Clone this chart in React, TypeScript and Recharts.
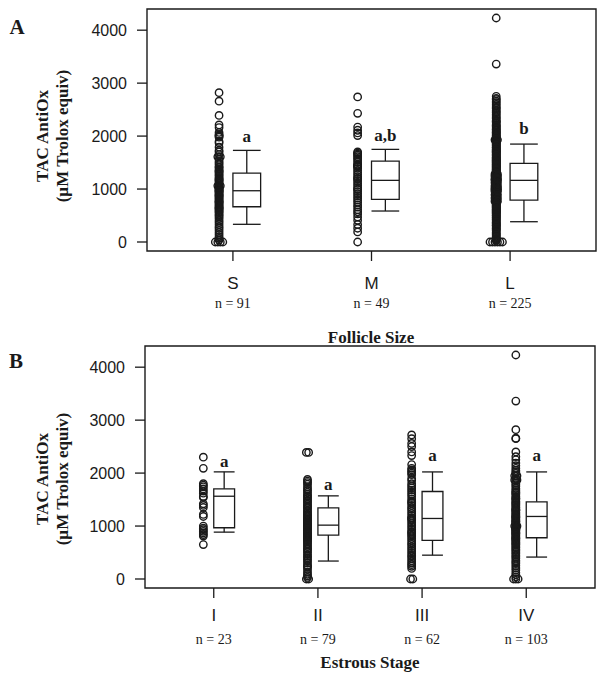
import React from 'react';
import { ComposedChart, Scatter, XAxis, YAxis, ReferenceArea, ReferenceLine } from 'recharts';

const SERIF = '"Liberation Serif", "Times New Roman", serif';
const SANS = '"Liberation Sans", Arial, sans-serif';
const INK = '#1a1a1a';

const yTicks = [0, 1000, 2000, 3000, 4000];
const yDomain = [-170, 4400];

// ---- panel A : follicle size ----
const sizeGroups = ['S', 'M', 'L'];
const sizeN = [91, 49, 225];
const sizeLetters = ['a', 'a,b', 'b'];
const sizeLetterY = [2000, 2020, 2145];
const sizeLow = [334, 585, 383];
const sizeQ1 = [666, 806, 792];
const sizeMed = [968, 1164, 1164];
const sizeQ3 = [1302, 1528, 1485];
const sizeHigh = [1730, 1749, 1849];

const sizeS = [
  2820, 2660, 2390, 2210, 2160, 2070, 2030, 2010, 2000, 1980, 1900, 1870, 1790, 1730, 1700,
  1650, 1610, 1560, 1520, 1490, 1460, 1420, 1410, 1380, 1350, 1320, 1300, 1270, 1250, 1220,
  1200, 1180, 1170, 1150, 1130, 1100, 1080, 1060, 1050, 1030, 1010, 990, 980, 970, 950,
  930, 910, 890, 880, 870, 850, 830, 810, 790, 770, 760, 750, 730, 710, 690,
  670, 650, 640, 630, 610, 590, 570, 550, 520, 500, 470, 440, 400, 370, 330,
  290, 260, 220, 180, 140, 100, 70, 40, 1340, 1610, 0, 0, 0, 0, 960, 1060,
];
const sizeM = [
  2740, 2430, 2170, 2110, 2060, 2010, 1700, 1680, 1660, 1640, 1610, 1580, 1550, 1510, 1470,
  1450, 1440, 1430, 1420, 1390, 1350, 1310, 1270, 1230, 1200, 1190, 1150, 1110, 1070, 1030,
  1000, 990, 950, 910, 870, 830, 790, 750, 700, 660, 610, 570, 530, 470, 410,
  330, 260, 190, 0,
];
const sizeL = [
  4230, 3360, 2750, 2710, 2690, 2660, 2630, 2600, 2570, 2540, 2520, 2490, 2460, 2440, 2410,
  2380, 2350, 2330, 2300, 2280, 2250, 2220, 2200, 2170, 2150, 2120, 2100, 2080, 2060, 2040,
  2020, 2010, 1990, 1970, 1950, 1930, 1910, 1890, 1870, 1860, 1840, 1820, 1800, 1790, 1770,
  1750, 1730, 1720, 1700, 1680, 1660, 1650, 1630, 1610, 1600, 1580, 1560, 1550, 1530, 1510,
  1500, 1480, 1470, 1450, 1430, 1420, 1400, 1390, 1370, 1350, 1340, 1320, 1310, 1290, 1280,
  1260, 1250, 1230, 1220, 1200, 1190, 1180, 1160, 1150, 1130, 1120, 1110, 1090, 1080, 1060,
  1050, 1040, 1020, 1010, 990, 980, 970, 950, 940, 920, 910, 900, 880, 870, 850,
  840, 820, 810, 790, 780, 760, 750, 730, 720, 700, 690, 670, 650, 640, 620,
  600, 590, 570, 550, 530, 510, 490, 470, 450, 430, 400, 370, 340, 310, 280,
  250, 220, 190, 150, 110, 70, 40, 0, 0, 0, 0, 0, 0, 1170, 1240,
  1330, 1460, 1020, 890, 770, 660, 1540, 1710, 1930, 1140, 1070, 960, 830, 1280, 1490,
  2270, 2190, 2130, 2070, 1980, 1940, 1880, 1830, 1780, 1740, 1690, 1640, 1590, 1570, 1520,
  1440, 1410, 1380, 1360, 1300, 1270, 1210, 1170, 1100, 1030, 1000, 960, 930, 890, 860,
  830, 800, 770, 740, 710, 680, 630, 610, 580, 560, 540, 500, 460, 420, 380,
  350, 320, 300, 260, 230, 170, 130, 90, 60, 30, 1120, 1190, 1240, 1060, 990,
];

// ---- panel B : estrous stage ----
const stageGroups = ['I', 'II', 'III', 'IV'];
const stageN = [23, 79, 62, 103];
const stageLetters = ['a', 'a', 'a', 'a'];
const stageLetterY = [2222, 1802, 2348, 2348];
const stageLow = [885, 339, 450, 414];
const stageQ1 = [968, 829, 729, 779];
const stageMed = [1563, 1017, 1143, 1181];
const stageQ3 = [1702, 1344, 1652, 1457];
const stageHigh = [2023, 1570, 2022, 2022];

const stageI = [
  2300, 2090, 1800, 1770, 1740, 1700, 1660, 1620, 1560, 1540, 1420, 1390, 1350, 1220, 1180,
  1000, 960, 930, 900, 870, 840, 810, 650,
];
const stageII = [
  2390, 2390, 1880, 1850, 1820, 1790, 1740, 1700, 1670, 1640, 1600, 1570, 1550, 1520, 1490,
  1470, 1440, 1410, 1380, 1360, 1330, 1300, 1270, 1250, 1220, 1200, 1190, 1160, 1140, 1130,
  1110, 1090, 1080, 1060, 1040, 1020, 1010, 1000, 980, 960, 950, 940, 920, 900, 880,
  870, 860, 840, 820, 800, 790, 780, 760, 740, 720, 700, 670, 640, 610, 580,
  560, 530, 500, 460, 430, 400, 370, 340, 300, 260, 240, 220, 180, 130, 90,
  60, 30, 0, 0,
];
const stageIII = [
  2720, 2650, 2560, 2500, 2400, 2330, 2160, 2090, 2060, 2030, 2000, 1970, 1900, 1860, 1800,
  1760, 1720, 1680, 1640, 1600, 1560, 1510, 1470, 1450, 1430, 1390, 1350, 1320, 1280, 1240,
  1200, 1160, 1150, 1130, 1100, 1060, 1020, 980, 940, 900, 880, 860, 830, 800, 760,
  720, 680, 650, 610, 570, 530, 490, 450, 420, 380, 340, 300, 270, 240, 200,
  0, 0,
];
const stageIV = [
  4230, 3360, 2820, 2660, 2650, 2400, 2310, 2250, 2190, 2140, 2090, 2050, 2020, 1990, 1950,
  1900, 1870, 1870, 1850, 1810, 1780, 1750, 1710, 1680, 1650, 1620, 1590, 1560, 1530, 1500,
  1470, 1450, 1430, 1410, 1390, 1360, 1340, 1310, 1290, 1260, 1240, 1220, 1200, 1180, 1160,
  1140, 1120, 1100, 1080, 1060, 1040, 1020, 1000, 1000, 980, 960, 950, 940, 920, 900,
  880, 860, 840, 820, 800, 780, 760, 740, 720, 700, 680, 660, 640, 610, 590,
  560, 540, 510, 480, 450, 420, 390, 350, 320, 290, 250, 210, 170, 120, 80,
  40, 0, 0, 0, 1300, 1520, 1170, 1090, 930, 870, 1630, 1950, 770,
];

// strip offsets (category units): points left of tick, box right of tick
const STRIP_DX = -0.1;
const BOX_W = 0.2;

// equal values are stacked side by side, like stripchart(method = "stack")
function stripPoints(groups: number[][], step: number) {
  const out: { x: number; y: number }[] = [];
  groups.forEach((vals, gi) => {
    const counts: Record<number, number> = {};
    vals.forEach((v) => (counts[v] = (counts[v] || 0) + 1));
    const seen: Record<number, number> = {};
    vals.forEach((v) => {
      const k = seen[v] || 0;
      seen[v] = k + 1;
      const off = (k - (counts[v] - 1) / 2) * step;
      out.push({ x: gi + 1 + STRIP_DX + off, y: v });
    });
  });
  return out;
}

const Ring = (props: any) => (
  <circle cx={props.cx} cy={props.cy} r={3.7} fill="none" stroke={INK} strokeWidth={1.4} />
);

const Letter = (props: any) => (
  <text x={props.cx} y={props.cy} dy="0.35em" textAnchor="middle" fontFamily={SERIF}
    fontWeight="bold" fontSize={17} fill={INK}>
    {props.payload.label}
  </text>
);

const makeTick = (groups: string[], ns: number[], nameDy: number, nDy: number) => (props: any) => {
  const { x, y, payload } = props;
  const i = Math.round(payload.value) - 1;
  return (
    <g>
      <text x={x} y={y + nameDy} textAnchor="middle" fontFamily={SANS} fontSize={17} fill={INK}>
        {groups[i]}
      </text>
      <text x={x} y={y + nDy} textAnchor="middle" fontFamily={SERIF} fontSize={14} fill={INK}>
        {`n = ${ns[i]}`}
      </text>
    </g>
  );
};

interface PanelProps {
  groups: string[];
  ns: number[];
  values: number[][];
  low: number[];
  q1: number[];
  med: number[];
  q3: number[];
  high: number[];
  letters: string[];
  letterY: number[];
  xDomain: number[];
  height: number;
  margin: { top: number; right: number; bottom: number; left: number };
  yWidth: number;
  xHeight: number;
  nameDy: number;
  nDy: number;
  step: number;
}

const Panel: React.FC<PanelProps> = (p) => {
  const pts = stripPoints(p.values, p.step);
  const letterData = p.letters.map((l, i) => ({ x: i + 1 + BOX_W / 2, y: p.letterY[i], label: l }));
  const boxes = p.groups.flatMap((g, i) => {
    const x0 = i + 1;
    const x1 = i + 1 + BOX_W;
    const xm = i + 1 + BOX_W / 2;
    const line = { stroke: INK, strokeWidth: 1.3 };
    return [
      <ReferenceArea key={`box${i}`} x1={x0} x2={x1} y1={p.q1[i]} y2={p.q3[i]} fill="none" fillOpacity={0} {...line} />,
      <ReferenceLine key={`med${i}`} segment={[{ x: x0, y: p.med[i] }, { x: x1, y: p.med[i] }]} {...line} />,
      <ReferenceLine key={`wu${i}`} segment={[{ x: xm, y: p.q3[i] }, { x: xm, y: p.high[i] }]} {...line} />,
      <ReferenceLine key={`wl${i}`} segment={[{ x: xm, y: p.q1[i] }, { x: xm, y: p.low[i] }]} {...line} />,
      <ReferenceLine key={`cu${i}`} segment={[{ x: x0, y: p.high[i] }, { x: x1, y: p.high[i] }]} {...line} />,
      <ReferenceLine key={`cl${i}`} segment={[{ x: x0, y: p.low[i] }, { x: x1, y: p.low[i] }]} {...line} />,
    ];
  });
  return (
    <ComposedChart width={604} height={p.height} margin={p.margin}>
      <XAxis type="number" dataKey="x" domain={p.xDomain} allowDataOverflow
        ticks={p.groups.map((_, i) => i + 1)} interval={0} height={p.xHeight}
        axisLine={false} tickSize={10} tickMargin={0}
        tickLine={{ stroke: INK, strokeWidth: 1.3 }}
        tick={makeTick(p.groups, p.ns, p.nameDy, p.nDy)} />
      <YAxis type="number" dataKey="y" domain={yDomain} allowDataOverflow ticks={yTicks}
        width={p.yWidth} axisLine={false} tickSize={10} tickMargin={10}
        tickLine={{ stroke: INK, strokeWidth: 1.3 }}
        tick={{ fontFamily: SANS, fontSize: 16, fill: INK }} />
      <ReferenceArea x1={p.xDomain[0]} x2={p.xDomain[1]} y1={yDomain[0]} y2={yDomain[1]}
        fill="none" fillOpacity={0} stroke={INK} strokeWidth={1.4} />
      {boxes}
      <Scatter data={pts} shape={Ring} isAnimationActive={false} />
      <Scatter data={letterData} shape={Letter} isAnimationActive={false} />
    </ComposedChart>
  );
};

const yTitle: React.CSSProperties = {
  position: 'absolute',
  transform: 'translate(-50%, -50%) rotate(-90deg)',
  fontFamily: SERIF,
  fontWeight: 'bold',
  fontSize: 17,
  lineHeight: '20px',
  textAlign: 'center',
  whiteSpace: 'nowrap',
  color: INK,
};

const centered: React.CSSProperties = {
  position: 'absolute',
  transform: 'translate(-50%, -50%)',
  fontFamily: SERIF,
  fontWeight: 'bold',
  lineHeight: 1,
  whiteSpace: 'nowrap',
  color: INK,
};

export default function App() {
  return (
    <div style={{ position: 'absolute', left: 0, top: 0, width: 604, height: 678, background: '#fff' }}>
      <div style={{ position: 'absolute', left: 0, top: 0 }}>
        <Panel groups={sizeGroups} ns={sizeN} values={[sizeS, sizeM, sizeL]}
          low={sizeLow} q1={sizeQ1} med={sizeMed} q3={sizeQ3} high={sizeHigh}
          letters={sizeLetters} letterY={sizeLetterY} xDomain={[0.38, 3.62]}
          height={330} margin={{ top: 9, right: 8, bottom: 0, left: 0 }}
          yWidth={147} xHeight={79} nameDy={28} nDy={47} step={0.018} />
      </div>
      <div style={{ position: 'absolute', left: 0, top: 330 }}>
        <Panel groups={stageGroups} ns={stageN} values={[stageI, stageII, stageIII, stageIV]}
          low={stageLow} q1={stageQ1} med={stageMed} q3={stageQ3} high={stageHigh}
          letters={stageLetters} letterY={stageLetterY} xDomain={[0.34, 4.66]}
          height={348} margin={{ top: 16, right: 9, bottom: 0, left: 0 }}
          yWidth={145} xHeight={90} nameDy={23} nDy={46} step={0.022} />
      </div>

      <div style={{ ...centered, left: 17, top: 27, fontSize: 21 }}>A</div>
      <div style={{ ...centered, left: 16, top: 361, fontSize: 21 }}>B</div>

      <div style={{ ...yTitle, left: 53, top: 136 }}>TAC AntiOx<br />(µM Trolox equiv)</div>
      <div style={{ ...yTitle, left: 53, top: 479 }}>TAC AntiOx<br />(µM Trolox equiv)</div>

      <div style={{ ...centered, left: 371, top: 337, fontSize: 17 }}>Follicle Size</div>
      <div style={{ ...centered, left: 370, top: 662, fontSize: 17 }}>Estrous Stage</div>
    </div>
  );
}
